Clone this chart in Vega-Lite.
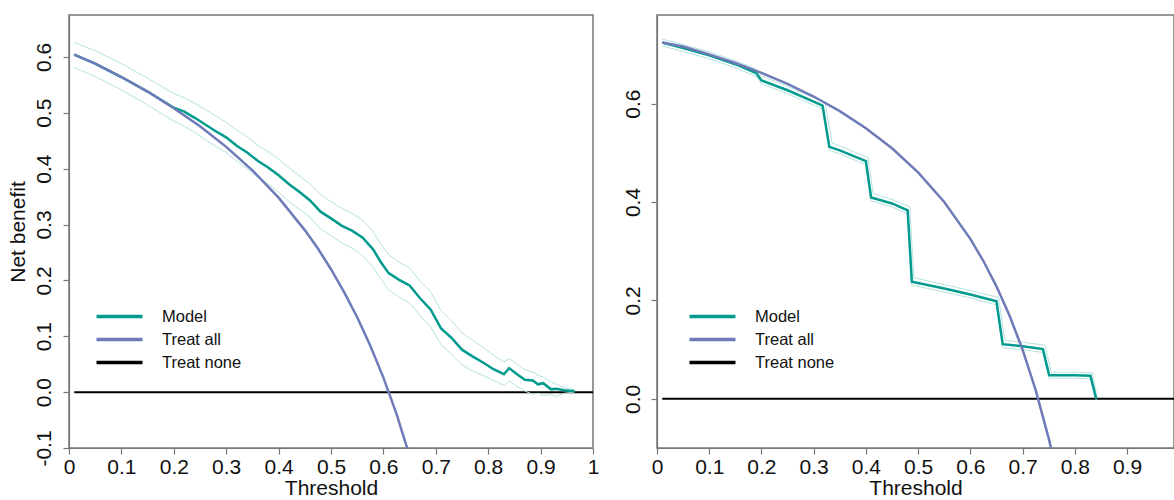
{
  "$schema": "https://vega.github.io/schema/vega-lite/v6.json",
  "padding": {"left": 6, "top": 14, "right": 0, "bottom": 0},
  "background": "white",
  "spacing": 21,
  "config": {
    "font": "Liberation Sans",
    "view": {"stroke": "#777777", "strokeWidth": 1.5},
    "axis": {"domainColor": "#777777", "domainWidth": 1.2, "tickColor": "#777777", "tickWidth": 1.2, "grid": false, "labelFontSize": 21, "titleFontSize": 21, "titleFontWeight": "normal", "labelColor": "#111111", "titleColor": "#111111", "tickSize": 6, "labelFont": "Liberation Sans", "titleFont": "Liberation Sans"},
    "legend": {"orient": "none", "symbolType": "M-3,0H3", "symbolSize": 235, "symbolStrokeWidth": 3.5, "labelFontSize": 16.5, "labelFont": "Liberation Sans", "labelColor": "#111111", "labelOffset": 33, "padding": 0, "rowPadding": 5, "title": null}
  },
  "resolve": {"scale": {"color": "independent"}, "legend": {"color": "independent"}},
  "datasets": {
    "left": [
      {"t": 0.01, "nb": 0, "s": "Treat none"}, {"t": 1.0, "nb": 0, "s": "Treat none"},
      {"t": 0.01, "nb": 0.604, "s": "Treat all"}, {"t": 0.05, "nb": 0.588, "s": "Treat all"}, {"t": 0.10, "nb": 0.564, "s": "Treat all"}, {"t": 0.15, "nb": 0.538, "s": "Treat all"}, {"t": 0.20, "nb": 0.508, "s": "Treat all"}, {"t": 0.25, "nb": 0.476, "s": "Treat all"}, {"t": 0.30, "nb": 0.439, "s": "Treat all"}, {"t": 0.35, "nb": 0.397, "s": "Treat all"}, {"t": 0.40, "nb": 0.348, "s": "Treat all"}, {"t": 0.45, "nb": 0.290, "s": "Treat all"}, {"t": 0.475, "nb": 0.257, "s": "Treat all"}, {"t": 0.50, "nb": 0.220, "s": "Treat all"}, {"t": 0.525, "nb": 0.179, "s": "Treat all"}, {"t": 0.55, "nb": 0.134, "s": "Treat all"}, {"t": 0.575, "nb": 0.083, "s": "Treat all"}, {"t": 0.60, "nb": 0.026, "s": "Treat all"}, {"t": 0.625, "nb": -0.039, "s": "Treat all"}, {"t": 0.65, "nb": -0.114, "s": "Treat all"}, {"t": 0.66, "nb": -0.147, "s": "Treat all"},
      {"t": 0.01, "nb": 0.604, "s": "Model"}, {"t": 0.05, "nb": 0.588, "s": "Model"}, {"t": 0.10, "nb": 0.564, "s": "Model"}, {"t": 0.15, "nb": 0.538, "s": "Model"}, {"t": 0.20, "nb": 0.509, "s": "Model"}, {"t": 0.22, "nb": 0.502, "s": "Model"}, {"t": 0.24, "nb": 0.491, "s": "Model"}, {"t": 0.26, "nb": 0.479, "s": "Model"}, {"t": 0.28, "nb": 0.467, "s": "Model"}, {"t": 0.30, "nb": 0.456, "s": "Model"}, {"t": 0.32, "nb": 0.441, "s": "Model"}, {"t": 0.34, "nb": 0.429, "s": "Model"}, {"t": 0.36, "nb": 0.414, "s": "Model"}, {"t": 0.38, "nb": 0.402, "s": "Model"}, {"t": 0.40, "nb": 0.388, "s": "Model"}, {"t": 0.42, "nb": 0.372, "s": "Model"}, {"t": 0.44, "nb": 0.358, "s": "Model"}, {"t": 0.46, "nb": 0.343, "s": "Model"}, {"t": 0.48, "nb": 0.323, "s": "Model"}, {"t": 0.50, "nb": 0.311, "s": "Model"}, {"t": 0.52, "nb": 0.298, "s": "Model"}, {"t": 0.54, "nb": 0.289, "s": "Model"}, {"t": 0.56, "nb": 0.277, "s": "Model"}, {"t": 0.58, "nb": 0.256, "s": "Model"}, {"t": 0.595, "nb": 0.233, "s": "Model"}, {"t": 0.61, "nb": 0.213, "s": "Model"}, {"t": 0.63, "nb": 0.201, "s": "Model"}, {"t": 0.65, "nb": 0.191, "s": "Model"}, {"t": 0.67, "nb": 0.168, "s": "Model"}, {"t": 0.69, "nb": 0.148, "s": "Model"}, {"t": 0.71, "nb": 0.114, "s": "Model"}, {"t": 0.73, "nb": 0.097, "s": "Model"}, {"t": 0.75, "nb": 0.076, "s": "Model"}, {"t": 0.77, "nb": 0.064, "s": "Model"}, {"t": 0.79, "nb": 0.053, "s": "Model"}, {"t": 0.81, "nb": 0.041, "s": "Model"}, {"t": 0.83, "nb": 0.032, "s": "Model"}, {"t": 0.84, "nb": 0.043, "s": "Model"}, {"t": 0.855, "nb": 0.032, "s": "Model"}, {"t": 0.87, "nb": 0.022, "s": "Model"}, {"t": 0.885, "nb": 0.021, "s": "Model"}, {"t": 0.895, "nb": 0.014, "s": "Model"}, {"t": 0.905, "nb": 0.016, "s": "Model"}, {"t": 0.92, "nb": 0.005, "s": "Model"}, {"t": 0.93, "nb": 0.006, "s": "Model"}, {"t": 0.945, "nb": 0.0035, "s": "Model"}, {"t": 0.965, "nb": 0.0015, "s": "Model"},
      {"t": 0.01, "nb": 0.581, "s": "Lower"}, {"t": 0.05, "nb": 0.565, "s": "Lower"}, {"t": 0.10, "nb": 0.541, "s": "Lower"}, {"t": 0.15, "nb": 0.514, "s": "Lower"}, {"t": 0.20, "nb": 0.485, "s": "Lower"}, {"t": 0.22, "nb": 0.476, "s": "Lower"}, {"t": 0.24, "nb": 0.465, "s": "Lower"}, {"t": 0.26, "nb": 0.452, "s": "Lower"}, {"t": 0.28, "nb": 0.440, "s": "Lower"}, {"t": 0.30, "nb": 0.429, "s": "Lower"}, {"t": 0.32, "nb": 0.413, "s": "Lower"}, {"t": 0.34, "nb": 0.400, "s": "Lower"}, {"t": 0.36, "nb": 0.385, "s": "Lower"}, {"t": 0.38, "nb": 0.372, "s": "Lower"}, {"t": 0.40, "nb": 0.358, "s": "Lower"}, {"t": 0.42, "nb": 0.341, "s": "Lower"}, {"t": 0.44, "nb": 0.327, "s": "Lower"}, {"t": 0.46, "nb": 0.313, "s": "Lower"}, {"t": 0.48, "nb": 0.292, "s": "Lower"}, {"t": 0.50, "nb": 0.280, "s": "Lower"}, {"t": 0.52, "nb": 0.267, "s": "Lower"}, {"t": 0.54, "nb": 0.258, "s": "Lower"}, {"t": 0.56, "nb": 0.245, "s": "Lower"}, {"t": 0.58, "nb": 0.224, "s": "Lower"}, {"t": 0.595, "nb": 0.203, "s": "Lower"}, {"t": 0.61, "nb": 0.183, "s": "Lower"}, {"t": 0.63, "nb": 0.170, "s": "Lower"}, {"t": 0.65, "nb": 0.160, "s": "Lower"}, {"t": 0.67, "nb": 0.137, "s": "Lower"}, {"t": 0.69, "nb": 0.117, "s": "Lower"}, {"t": 0.71, "nb": 0.085, "s": "Lower"}, {"t": 0.73, "nb": 0.068, "s": "Lower"}, {"t": 0.75, "nb": 0.049, "s": "Lower"}, {"t": 0.77, "nb": 0.038, "s": "Lower"}, {"t": 0.79, "nb": 0.030, "s": "Lower"}, {"t": 0.81, "nb": 0.021, "s": "Lower"}, {"t": 0.83, "nb": 0.012, "s": "Lower"}, {"t": 0.84, "nb": 0.020, "s": "Lower"}, {"t": 0.855, "nb": 0.010, "s": "Lower"}, {"t": 0.87, "nb": 0.002, "s": "Lower"}, {"t": 0.885, "nb": -0.004, "s": "Lower"}, {"t": 0.895, "nb": -0.002, "s": "Lower"}, {"t": 0.905, "nb": -0.006, "s": "Lower"}, {"t": 0.92, "nb": -0.004, "s": "Lower"}, {"t": 0.93, "nb": -0.008, "s": "Lower"}, {"t": 0.945, "nb": -0.002, "s": "Lower"}, {"t": 0.965, "nb": 0.0, "s": "Lower"},
      {"t": 0.01, "nb": 0.626, "s": "Upper"}, {"t": 0.05, "nb": 0.611, "s": "Upper"}, {"t": 0.10, "nb": 0.588, "s": "Upper"}, {"t": 0.15, "nb": 0.562, "s": "Upper"}, {"t": 0.20, "nb": 0.534, "s": "Upper"}, {"t": 0.22, "nb": 0.527, "s": "Upper"}, {"t": 0.24, "nb": 0.517, "s": "Upper"}, {"t": 0.26, "nb": 0.506, "s": "Upper"}, {"t": 0.28, "nb": 0.494, "s": "Upper"}, {"t": 0.30, "nb": 0.483, "s": "Upper"}, {"t": 0.32, "nb": 0.469, "s": "Upper"}, {"t": 0.34, "nb": 0.457, "s": "Upper"}, {"t": 0.36, "nb": 0.442, "s": "Upper"}, {"t": 0.38, "nb": 0.430, "s": "Upper"}, {"t": 0.40, "nb": 0.417, "s": "Upper"}, {"t": 0.42, "nb": 0.401, "s": "Upper"}, {"t": 0.44, "nb": 0.387, "s": "Upper"}, {"t": 0.46, "nb": 0.373, "s": "Upper"}, {"t": 0.48, "nb": 0.354, "s": "Upper"}, {"t": 0.50, "nb": 0.341, "s": "Upper"}, {"t": 0.52, "nb": 0.329, "s": "Upper"}, {"t": 0.54, "nb": 0.320, "s": "Upper"}, {"t": 0.56, "nb": 0.308, "s": "Upper"}, {"t": 0.58, "nb": 0.288, "s": "Upper"}, {"t": 0.595, "nb": 0.265, "s": "Upper"}, {"t": 0.61, "nb": 0.246, "s": "Upper"}, {"t": 0.63, "nb": 0.233, "s": "Upper"}, {"t": 0.65, "nb": 0.222, "s": "Upper"}, {"t": 0.67, "nb": 0.199, "s": "Upper"}, {"t": 0.69, "nb": 0.180, "s": "Upper"}, {"t": 0.71, "nb": 0.146, "s": "Upper"}, {"t": 0.73, "nb": 0.128, "s": "Upper"}, {"t": 0.75, "nb": 0.106, "s": "Upper"}, {"t": 0.77, "nb": 0.093, "s": "Upper"}, {"t": 0.79, "nb": 0.080, "s": "Upper"}, {"t": 0.81, "nb": 0.066, "s": "Upper"}, {"t": 0.83, "nb": 0.054, "s": "Upper"}, {"t": 0.84, "nb": 0.060, "s": "Upper"}, {"t": 0.855, "nb": 0.050, "s": "Upper"}, {"t": 0.87, "nb": 0.040, "s": "Upper"}, {"t": 0.885, "nb": 0.036, "s": "Upper"}, {"t": 0.895, "nb": 0.030, "s": "Upper"}, {"t": 0.905, "nb": 0.027, "s": "Upper"}, {"t": 0.92, "nb": 0.018, "s": "Upper"}, {"t": 0.93, "nb": 0.014, "s": "Upper"}, {"t": 0.945, "nb": 0.008, "s": "Upper"}, {"t": 0.965, "nb": 0.004, "s": "Upper"}
    ],
    "right": [
      {"t": 0.01, "nb": 0, "s": "Treat none"}, {"t": 0.99, "nb": 0, "s": "Treat none"},
      {"t": 0.01, "nb": 0.724, "s": "Treat all"}, {"t": 0.05, "nb": 0.7158, "s": "Treat all"}, {"t": 0.10, "nb": 0.70, "s": "Treat all"}, {"t": 0.15, "nb": 0.6824, "s": "Treat all"}, {"t": 0.20, "nb": 0.6625, "s": "Treat all"}, {"t": 0.25, "nb": 0.64, "s": "Treat all"}, {"t": 0.30, "nb": 0.6143, "s": "Treat all"}, {"t": 0.35, "nb": 0.5846, "s": "Treat all"}, {"t": 0.40, "nb": 0.55, "s": "Treat all"}, {"t": 0.45, "nb": 0.5091, "s": "Treat all"}, {"t": 0.50, "nb": 0.46, "s": "Treat all"}, {"t": 0.55, "nb": 0.40, "s": "Treat all"}, {"t": 0.60, "nb": 0.325, "s": "Treat all"}, {"t": 0.625, "nb": 0.28, "s": "Treat all"}, {"t": 0.65, "nb": 0.2286, "s": "Treat all"}, {"t": 0.675, "nb": 0.1692, "s": "Treat all"}, {"t": 0.70, "nb": 0.10, "s": "Treat all"}, {"t": 0.725, "nb": 0.0182, "s": "Treat all"}, {"t": 0.75, "nb": -0.08, "s": "Treat all"}, {"t": 0.76, "nb": -0.125, "s": "Treat all"},
      {"t": 0.01, "nb": 0.724, "s": "Model"}, {"t": 0.05, "nb": 0.713, "s": "Model"}, {"t": 0.10, "nb": 0.698, "s": "Model"}, {"t": 0.15, "nb": 0.680, "s": "Model"}, {"t": 0.19, "nb": 0.662, "s": "Model"}, {"t": 0.20, "nb": 0.647, "s": "Model"}, {"t": 0.25, "nb": 0.627, "s": "Model"}, {"t": 0.30, "nb": 0.604, "s": "Model"}, {"t": 0.317, "nb": 0.596, "s": "Model"}, {"t": 0.33, "nb": 0.512, "s": "Model"}, {"t": 0.35, "nb": 0.505, "s": "Model"}, {"t": 0.40, "nb": 0.483, "s": "Model"}, {"t": 0.41, "nb": 0.409, "s": "Model"}, {"t": 0.45, "nb": 0.397, "s": "Model"}, {"t": 0.48, "nb": 0.383, "s": "Model"}, {"t": 0.488, "nb": 0.238, "s": "Model"}, {"t": 0.55, "nb": 0.224, "s": "Model"}, {"t": 0.60, "nb": 0.212, "s": "Model"}, {"t": 0.65, "nb": 0.198, "s": "Model"}, {"t": 0.662, "nb": 0.111, "s": "Model"}, {"t": 0.70, "nb": 0.107, "s": "Model"}, {"t": 0.739, "nb": 0.101, "s": "Model"}, {"t": 0.751, "nb": 0.048, "s": "Model"}, {"t": 0.80, "nb": 0.048, "s": "Model"}, {"t": 0.83, "nb": 0.047, "s": "Model"}, {"t": 0.841, "nb": 0.0, "s": "Model"},
      {"t": 0.01, "nb": 0.717, "s": "Lower"}, {"t": 0.05, "nb": 0.706, "s": "Lower"}, {"t": 0.10, "nb": 0.691, "s": "Lower"}, {"t": 0.15, "nb": 0.673, "s": "Lower"}, {"t": 0.19, "nb": 0.655, "s": "Lower"}, {"t": 0.20, "nb": 0.640, "s": "Lower"}, {"t": 0.25, "nb": 0.620, "s": "Lower"}, {"t": 0.30, "nb": 0.597, "s": "Lower"}, {"t": 0.317, "nb": 0.589, "s": "Lower"}, {"t": 0.33, "nb": 0.505, "s": "Lower"}, {"t": 0.35, "nb": 0.498, "s": "Lower"}, {"t": 0.40, "nb": 0.476, "s": "Lower"}, {"t": 0.41, "nb": 0.402, "s": "Lower"}, {"t": 0.45, "nb": 0.390, "s": "Lower"}, {"t": 0.48, "nb": 0.376, "s": "Lower"}, {"t": 0.488, "nb": 0.231, "s": "Lower"}, {"t": 0.55, "nb": 0.217, "s": "Lower"}, {"t": 0.60, "nb": 0.205, "s": "Lower"}, {"t": 0.65, "nb": 0.191, "s": "Lower"}, {"t": 0.662, "nb": 0.104, "s": "Lower"}, {"t": 0.70, "nb": 0.100, "s": "Lower"}, {"t": 0.739, "nb": 0.094, "s": "Lower"}, {"t": 0.751, "nb": 0.042, "s": "Lower"}, {"t": 0.80, "nb": 0.042, "s": "Lower"}, {"t": 0.83, "nb": 0.041, "s": "Lower"}, {"t": 0.841, "nb": -0.002, "s": "Lower"},
      {"t": 0.01, "nb": 0.731, "s": "Upper"}, {"t": 0.05, "nb": 0.720, "s": "Upper"}, {"t": 0.10, "nb": 0.705, "s": "Upper"}, {"t": 0.15, "nb": 0.687, "s": "Upper"}, {"t": 0.19, "nb": 0.670, "s": "Upper"}, {"t": 0.20, "nb": 0.656, "s": "Upper"}, {"t": 0.25, "nb": 0.635, "s": "Upper"}, {"t": 0.30, "nb": 0.612, "s": "Upper"}, {"t": 0.322, "nb": 0.603, "s": "Upper"}, {"t": 0.335, "nb": 0.520, "s": "Upper"}, {"t": 0.35, "nb": 0.514, "s": "Upper"}, {"t": 0.404, "nb": 0.490, "s": "Upper"}, {"t": 0.414, "nb": 0.417, "s": "Upper"}, {"t": 0.45, "nb": 0.405, "s": "Upper"}, {"t": 0.484, "nb": 0.390, "s": "Upper"}, {"t": 0.492, "nb": 0.246, "s": "Upper"}, {"t": 0.55, "nb": 0.232, "s": "Upper"}, {"t": 0.60, "nb": 0.220, "s": "Upper"}, {"t": 0.654, "nb": 0.206, "s": "Upper"}, {"t": 0.666, "nb": 0.119, "s": "Upper"}, {"t": 0.70, "nb": 0.115, "s": "Upper"}, {"t": 0.743, "nb": 0.109, "s": "Upper"}, {"t": 0.755, "nb": 0.054, "s": "Upper"}, {"t": 0.80, "nb": 0.054, "s": "Upper"}, {"t": 0.834, "nb": 0.053, "s": "Upper"}, {"t": 0.843, "nb": 0.002, "s": "Upper"}
    ]
  },
  "hconcat": [
    {
      "width": 524, "height": 433,
      "data": {"name": "left"},
      "encoding": {
        "x": {"field": "t", "type": "quantitative", "scale": {"domain": [0, 1], "nice": false, "zero": false}, "axis": {"values": [0, 0.1, 0.2, 0.3, 0.4, 0.5, 0.6, 0.7, 0.8, 0.9, 1], "format": "~g", "title": "Threshold", "labelFlush": false, "labelOverlap": false, "labelPadding": 2, "titlePadding": 0}},
        "y": {"field": "nb", "type": "quantitative", "scale": {"domain": [-0.1, 0.675], "nice": false, "zero": false}, "axis": {"values": [-0.1, 0, 0.1, 0.2, 0.3, 0.4, 0.5, 0.6], "format": ".1f", "labelExpr": "replace(datum.label, '\u2212', '-')", "labelAngle": -90, "labelAlign": "center", "labelBaseline": "bottom", "labelFlush": false, "labelOverlap": false, "labelPadding": 9, "title": "Net benefit", "titlePadding": 5}}
      },
      "layer": [
        {"transform": [{"filter": "datum.s === 'Treat none'"}], "mark": {"type": "line", "strokeWidth": 2, "clip": true},
         "encoding": {"color": {"field": "s", "type": "nominal", "scale": {"domain": ["Model", "Treat all", "Treat none"], "range": ["#009b8e", "#6f7bb8", "#000000"]}, "legend": {"legendX": 41, "legendY": 292}}}},
        {"transform": [{"filter": "datum.s === 'Upper' || datum.s === 'Lower'"}], "mark": {"type": "line", "strokeWidth": 1, "color": "#b5e3e0", "clip": true},
         "encoding": {"detail": {"field": "s"}}},
        {"transform": [{"filter": "datum.s === 'Model'"}], "mark": {"type": "line", "strokeWidth": 2.5, "clip": true},
         "encoding": {"color": {"field": "s", "type": "nominal", "scale": {"domain": ["Model", "Treat all", "Treat none"], "range": ["#009b8e", "#6f7bb8", "#000000"]}, "legend": {"legendX": 41, "legendY": 292}}}},
        {"transform": [{"filter": "datum.s === 'Treat all'"}], "mark": {"type": "line", "strokeWidth": 2.5, "clip": true},
         "encoding": {"color": {"field": "s", "type": "nominal", "scale": {"domain": ["Model", "Treat all", "Treat none"], "range": ["#009b8e", "#6f7bb8", "#000000"]}, "legend": {"legendX": 41, "legendY": 292}}}}
      ]
    },
    {
      "width": 517, "height": 433,
      "data": {"name": "right"},
      "encoding": {
        "x": {"field": "t", "type": "quantitative", "scale": {"domain": [0, 0.99], "nice": false, "zero": false}, "axis": {"values": [0, 0.1, 0.2, 0.3, 0.4, 0.5, 0.6, 0.7, 0.8, 0.9], "format": "~g", "title": "Threshold", "labelFlush": false, "labelOverlap": false, "labelPadding": 2, "titlePadding": 0}},
        "y": {"field": "nb", "type": "quantitative", "scale": {"domain": [-0.1, 0.78], "nice": false, "zero": false}, "axis": {"values": [0, 0.2, 0.4, 0.6], "format": ".1f", "labelAngle": -90, "labelAlign": "center", "labelBaseline": "bottom", "labelFlush": false, "labelOverlap": false, "labelPadding": 8, "title": null}}
      },
      "layer": [
        {"transform": [{"filter": "datum.s === 'Treat none'"}], "mark": {"type": "line", "strokeWidth": 2, "clip": true},
         "encoding": {"color": {"field": "s", "type": "nominal", "scale": {"domain": ["Model", "Treat all", "Treat none"], "range": ["#009b8e", "#6f7bb8", "#000000"]}, "legend": {"legendX": 46, "legendY": 292}}}},
        {"transform": [{"filter": "datum.s === 'Upper' || datum.s === 'Lower'"}], "mark": {"type": "line", "strokeWidth": 1, "color": "#b5e3e0", "clip": true},
         "encoding": {"detail": {"field": "s"}}},
        {"transform": [{"filter": "datum.s === 'Model'"}], "mark": {"type": "line", "strokeWidth": 2.5, "clip": true},
         "encoding": {"color": {"field": "s", "type": "nominal", "scale": {"domain": ["Model", "Treat all", "Treat none"], "range": ["#009b8e", "#6f7bb8", "#000000"]}, "legend": {"legendX": 46, "legendY": 292}}}},
        {"transform": [{"filter": "datum.s === 'Treat all'"}], "mark": {"type": "line", "strokeWidth": 2.5, "clip": true},
         "encoding": {"color": {"field": "s", "type": "nominal", "scale": {"domain": ["Model", "Treat all", "Treat none"], "range": ["#009b8e", "#6f7bb8", "#000000"]}, "legend": {"legendX": 46, "legendY": 292}}}}
      ]
    }
  ]
}
